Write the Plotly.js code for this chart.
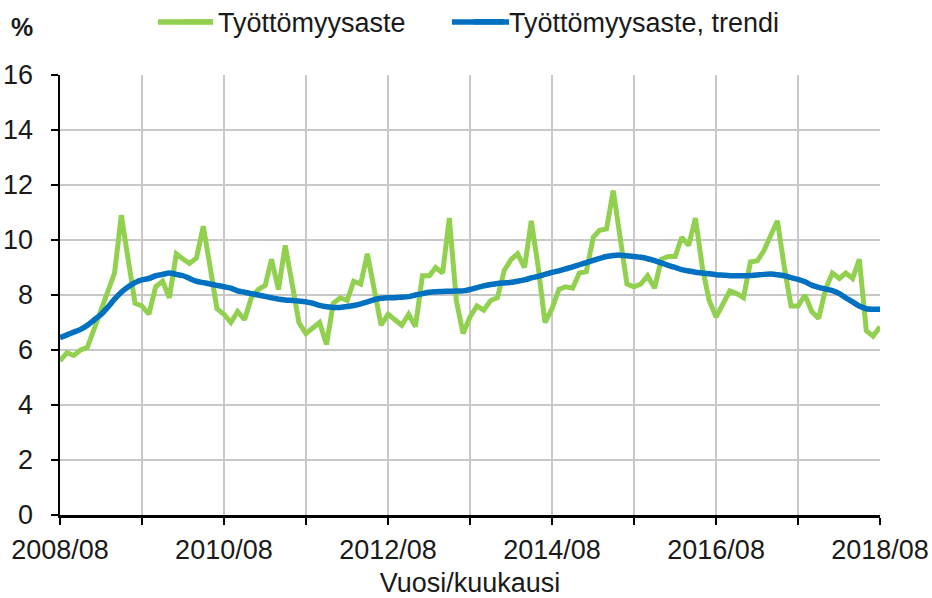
<!DOCTYPE html>
<html>
<head>
<meta charset="utf-8">
<script src="https://cdn.plot.ly/plotly-3.0.1.min.js"></script>
<style>
  html, body { margin: 0; padding: 0; background: #ffffff; }
  #chart { width: 932px; height: 598px; }
</style>
</head>
<body>
<div id="chart"></div>
<script>
// Monthly data from 2008/08 to 2018/08 (121 months)
const startYear = 2008;
const startMonth = 8;

const unemploymentRate = [
  5.6, 5.9, 5.8, 6.0, 6.1, 6.8, 7.5, 8.2, 8.8, 10.9,
  9.2, 7.7, 7.6, 7.3, 8.3, 8.5, 7.9, 9.5, 9.3, 9.15,
  9.35, 10.5, 9.0, 7.5, 7.3, 7.0, 7.4, 7.1, 7.9, 8.2,
  8.35, 9.3, 8.2, 9.8, 8.4, 7.0, 6.6, 6.8, 7.0, 6.2,
  7.7, 7.9, 7.8, 8.5, 8.4, 9.5, 8.2, 6.9, 7.3, 7.1,
  6.9, 7.3, 6.85, 8.7, 8.7, 9.0, 8.8, 10.8, 7.8, 6.6,
  7.2, 7.6, 7.45, 7.8, 7.9, 8.9, 9.3, 9.5, 9.0, 10.7,
  9.0, 7.0, 7.5, 8.2, 8.3, 8.25, 8.8, 8.85, 10.1, 10.35,
  10.4, 11.8, 10.0, 8.4, 8.3, 8.4, 8.7, 8.25, 9.3, 9.4,
  9.4, 10.1, 9.8, 10.8, 9.0, 7.8, 7.2, 7.65, 8.15, 8.05,
  7.9, 9.2, 9.25, 9.6, 10.2, 10.7, 9.0, 7.6, 7.6, 8.0,
  7.4, 7.15, 8.2, 8.8, 8.6, 8.8, 8.6, 9.3, 6.7, 6.5,
  6.85
];

const unemploymentTrend = [
  6.45, 6.55, 6.65, 6.75, 6.9, 7.1, 7.3, 7.55, 7.85, 8.1,
  8.3, 8.45, 8.55, 8.6, 8.7, 8.75, 8.8, 8.75, 8.7, 8.6,
  8.5, 8.45, 8.4, 8.35, 8.3, 8.25, 8.15, 8.1, 8.05, 8.0,
  7.95, 7.9, 7.85, 7.82, 7.8, 7.78, 7.75, 7.7, 7.62, 7.57,
  7.55, 7.55, 7.58, 7.62, 7.68, 7.75, 7.83, 7.88, 7.9, 7.9,
  7.92, 7.94, 8.0, 8.05, 8.1, 8.12, 8.13, 8.14, 8.15, 8.15,
  8.2, 8.27, 8.33, 8.38, 8.42, 8.44, 8.46, 8.5, 8.55, 8.62,
  8.68, 8.75, 8.82, 8.88, 8.95, 9.02, 9.1, 9.18, 9.26, 9.33,
  9.4, 9.44, 9.45, 9.43, 9.4, 9.37, 9.32, 9.25, 9.17, 9.08,
  9.0, 8.92, 8.87, 8.83, 8.8, 8.77, 8.74, 8.72, 8.7, 8.7,
  8.7, 8.71, 8.73, 8.75, 8.76, 8.74, 8.7, 8.63, 8.57, 8.48,
  8.36, 8.28, 8.22, 8.16, 8.05, 7.9, 7.75, 7.6, 7.5, 7.48,
  7.48
];

const tickLabels = ['2008/08', '', '2010/08', '', '2012/08', '', '2014/08', '', '2016/08', '', '2018/08'];
const seriesNames = ['Työttömyysaste', 'Työttömyysaste, trendi'];
const seriesColors = ['#92D050', '#0070C0'];
const yTitle = '%';
const xTitle = 'Vuosi/kuukausi';

function monthDate(i) {
  const total = (startMonth - 1) + i;
  const y = startYear + Math.floor(total / 12);
  const m = (total % 12) + 1;
  return y + '-' + String(m).padStart(2, '0') + '-01';
}
const months = unemploymentRate.map((_, i) => monthDate(i));
const tickVals = tickLabels.map((_, k) => monthDate(k * 12));

const FONT = 'Liberation Sans, Arial, Helvetica, sans-serif';
const TXT = '#1a1a1a';
const FS = 27;

const traces = [
  {
    x: months, y: unemploymentRate, name: seriesNames[0],
    type: 'scatter', mode: 'lines',
    line: { color: seriesColors[0], width: 5 },
    legend: 'legend'
  },
  {
    x: months, y: unemploymentTrend, name: seriesNames[1],
    type: 'scatter', mode: 'lines',
    line: { color: seriesColors[1], width: 5.5, shape: 'spline', smoothing: 0.6 },
    legend: 'legend2'
  }
];

const legendCommon = {
  orientation: 'h', yref: 'container', xref: 'container',
  yanchor: 'middle', xanchor: 'left', y: 0.963,
  font: { family: FONT, size: FS, color: TXT },
  bgcolor: 'rgba(0,0,0,0)', itemwidth: 30, tracegroupgap: 0
};

// longer legend key lines (paper coordinates, above the plot area)
const keyY = 1.1205;
const legendKeys = [
  { x0: 0.1195, x1: 0.1866, color: seriesColors[0] },
  { x0: 0.478, x1: 0.5476, color: seriesColors[1] }
].map(k => ({
  type: 'line', xref: 'paper', yref: 'paper',
  x0: k.x0, x1: k.x1, y0: keyY, y1: keyY,
  line: { color: k.color, width: 5.5 }, layer: 'above'
}));

const layout = {
  width: 932, height: 598,
  margin: { l: 60, r: 52, t: 75, b: 83 },
  paper_bgcolor: '#ffffff', plot_bgcolor: '#ffffff',
  font: { family: FONT, size: FS, color: TXT },
  showlegend: true,
  legend: Object.assign({}, legendCommon, { x: 178 / 932 }),
  legend2: Object.assign({}, legendCommon, { x: 469 / 932 }),
  xaxis: {
    type: 'date',
    range: [monthDate(0), monthDate(120)],
    tickmode: 'array', tickvals: tickVals, ticktext: tickLabels,
    ticks: 'outside', ticklen: 7, tickwidth: 2, tickcolor: '#000',
    showline: true, linecolor: '#000', linewidth: 2.5,
    showgrid: true, gridcolor: '#c8c8c8', gridwidth: 1.5,
    zeroline: false,
    tickfont: { family: FONT, size: FS, color: TXT },
    ticklabelstandoff: 2,
    title: { text: xTitle, font: { family: FONT, size: FS, color: TXT }, standoff: 10 },
    automargin: false
  },
  yaxis: {
    range: [0, 16], dtick: 2, tick0: 0,
    ticks: 'outside', ticklen: 7, tickwidth: 2, tickcolor: '#000',
    showline: true, linecolor: '#000', linewidth: 2.5,
    showgrid: true, gridcolor: '#c8c8c8', gridwidth: 1.5,
    zeroline: false,
    tickfont: { family: FONT, size: FS, color: TXT },
    ticklabelstandoff: 12,
    automargin: false
  },
  shapes: legendKeys,
  annotations: [
    {
      text: '<b>' + yTitle + '</b>', xref: 'paper', yref: 'paper',
      x: -0.046, y: 1.109, xanchor: 'center', yanchor: 'middle',
      showarrow: false, font: { family: FONT, size: 25, color: TXT }
    }
  ]
};

Plotly.newPlot('chart', traces, layout, { displayModeBar: false, staticPlot: true });
</script>
</body>
</html>
